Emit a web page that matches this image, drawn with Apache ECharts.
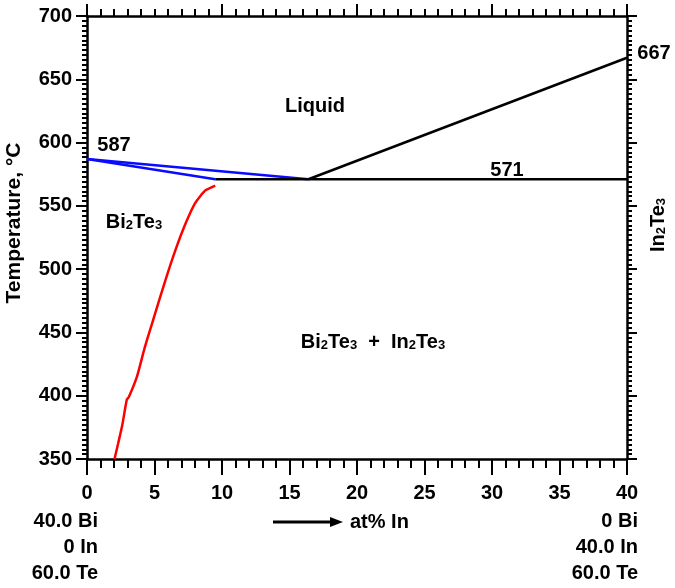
<!DOCTYPE html>
<html>
<head>
<meta charset="utf-8">
<script src="https://cdn.jsdelivr.net/npm/echarts@6/dist/echarts.min.js"></script>
<style>
  html, body { margin: 0; padding: 0; background: #fff; }
  #chart { width: 675px; height: 588px; }
</style>
</head>
<body>
<div id="chart"></div>
<script>
// phase boundaries, x = at% In, y = temperature (°C)
const liquidusBiX = [0, 16.4]
const liquidusBiY = [587, 571]
const solidusX = [0, 9.5]
const solidusY = [587, 571]
const eutecticX = [9.5, 40]
const eutecticY = [571, 571]
const liquidusInX = [16.4, 40]
const liquidusInY = [571, 667]
const solvusX = [2.04, 2.3, 2.6, 2.95, 3.1, 3.7, 4.3, 5.05, 5.8, 6.55, 7.3, 8.0, 8.75, 9.5]
const solvusY = [350, 362, 376, 397, 399, 415, 439, 465, 491, 515, 536, 552, 562, 566]

const xRange = [0, 40]
const yRange = [350, 700]

const pairs = (xs, ys) => xs.map((x, i) => [x, ys[i]])

const FONT = 'Liberation Sans'
const rich = {
  m: { fontFamily: FONT, fontWeight: 'bold', fontSize: 20, lineHeight: 24, color: '#000', verticalAlign: 'bottom' },
  s: { fontFamily: FONT, fontWeight: 'bold', fontSize: 13, lineHeight: 20, color: '#000', verticalAlign: 'bottom' },
}

function label(x, y, text, extra) {
  return Object.assign({
    type: 'text', x: x, y: y,
    style: {
      text: text, rich: rich,
      font: 'bold 20px ' + FONT, fill: '#000',
      align: 'center', verticalAlign: 'middle',
    },
  }, extra || {})
}

function plain(x, y, text, align, size) {
  return {
    type: 'text', x: x, y: y,
    style: { text: text, font: 'bold ' + (size || 20) + 'px ' + FONT, fill: '#000', align: align, verticalAlign: 'middle' },
  }
}

function lineSeries(data, color) {
  return {
    type: 'line', data: data, showSymbol: false, symbol: 'none',
    lineStyle: { color: color, width: 2.5 }, silent: true, animation: false,
  }
}

const axisText = { fontFamily: FONT, fontWeight: 'bold', fontSize: 20, color: '#000' }
const axisLine = { show: true, onZero: false, lineStyle: { color: '#000', width: 2.5 } }
const tickStyle = { color: '#000', width: 2 }

const chart = echarts.init(document.getElementById('chart'))
chart.setOption({
  animation: false,
  grid: { left: 87, right: 48, top: 16, bottom: 129 },
  xAxis: [
    {
      type: 'value', position: 'bottom', min: xRange[0], max: xRange[1], interval: 5,
      axisLine: axisLine,
      axisTick: { show: true, length: 16, lineStyle: tickStyle },
      minorTick: { show: true, splitNumber: 5, length: 9, lineStyle: tickStyle },
      axisLabel: Object.assign({ margin: 24 }, axisText),
      splitLine: { show: false },
    },
    {
      type: 'value', position: 'top', min: xRange[0], max: xRange[1], interval: 10,
      axisLine: axisLine,
      axisTick: { show: true, length: 12, lineStyle: tickStyle },
      minorTick: { show: true, splitNumber: 10, length: 7, lineStyle: tickStyle },
      axisLabel: { show: false },
      splitLine: { show: false },
    },
  ],
  yAxis: [
    {
      type: 'value', position: 'left', min: yRange[0], max: yRange[1], interval: 50,
      axisLine: axisLine,
      axisTick: { show: true, length: 11, lineStyle: tickStyle },
      minorTick: { show: true, splitNumber: 13, length: 5, lineStyle: tickStyle },
      axisLabel: Object.assign({ margin: 15 }, axisText),
      splitLine: { show: false },
    },
    {
      type: 'value', position: 'right', min: yRange[0], max: yRange[1], interval: 50,
      axisLine: axisLine,
      axisTick: { show: true, length: 10, lineStyle: tickStyle },
      minorTick: { show: true, splitNumber: 13, length: 5, lineStyle: tickStyle },
      axisLabel: { show: false },
      splitLine: { show: false },
    },
  ],
  series: [
    lineSeries(pairs(liquidusBiX, liquidusBiY), '#0a0aff'),
    lineSeries(pairs(solidusX, solidusY), '#0a0aff'),
    lineSeries(pairs(eutecticX, eutecticY), '#000'),
    lineSeries(pairs(liquidusInX, liquidusInY), '#000'),
    Object.assign(lineSeries(pairs(solvusX, solvusY), '#ff0000'), { smooth: 0.2 }),
  ],
  graphic: [
    plain(14, 223, 'Temperature, °C', 'center', 21),
    label(656, 225, '{m|In}{s|2}{m|Te}{s|3}', { rotation: Math.PI / 2 }),
    plain(315, 106, 'Liquid', 'center'),
    label(134, 220, '{m|Bi}{s|2}{m|Te}{s|3}'),
    label(373, 340, '{m|Bi}{s|2}{m|Te}{s|3}{m|  +  In}{s|2}{m|Te}{s|3}'),
    plain(114, 145, '587', 'center'),
    plain(507, 170, '571', 'center'),
    plain(654, 53, '667', 'center'),
    plain(98, 521, '40.0 Bi', 'right'),
    plain(98, 547, '0 In', 'right'),
    plain(98, 573, '60.0 Te', 'right'),
    plain(638, 521, '0 Bi', 'right'),
    plain(638, 547, '40.0 In', 'right'),
    plain(638, 573, '60.0 Te', 'right'),
    { type: 'line', shape: { x1: 273, y1: 522, x2: 332, y2: 522 }, style: { stroke: '#000', lineWidth: 3 } },
    { type: 'polygon', shape: { points: [[330, 517], [343, 522], [330, 527]] }, style: { fill: '#000' } },
    plain(350, 522, 'at% In', 'left'),
  ].map((g, i) => i === 0 ? Object.assign(g, { rotation: Math.PI / 2 }) : g),
})
</script>
</body>
</html>
